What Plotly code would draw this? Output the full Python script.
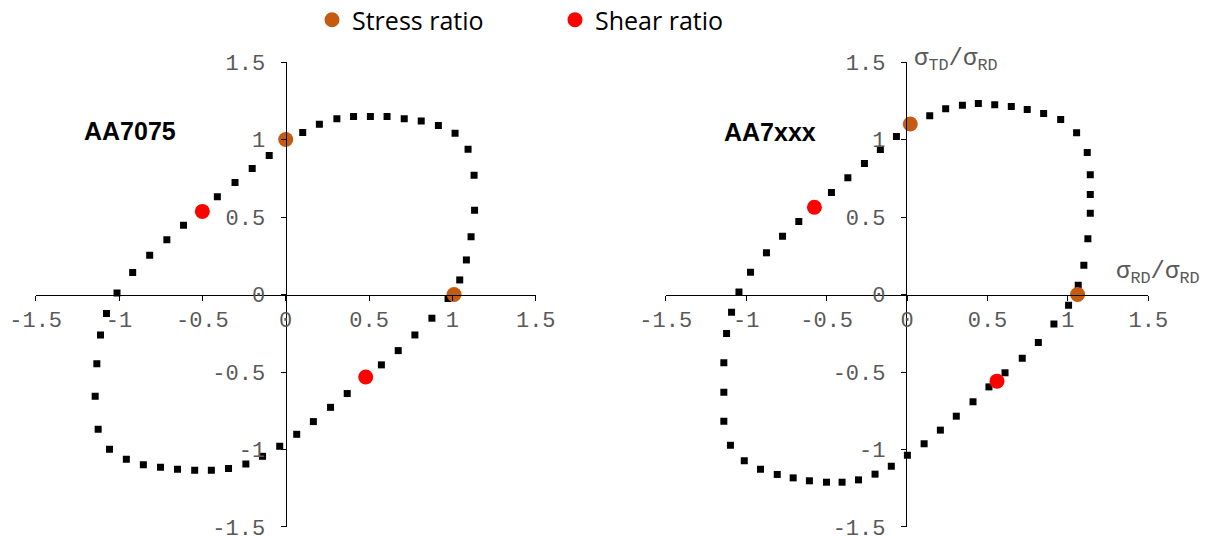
import plotly.graph_objects as go

# ---------------- data ----------------
# AA7075 yield locus (black squares)
aa7075_x = [-1.012, -0.918, -0.816, -0.713, -0.613, -0.410, -0.304, -0.201, -0.099, 0.006,
            0.102, 0.202, 0.307, 0.407, 0.508, 0.608, 0.711, 0.813, 0.916, 1.016,
            1.094, 1.130, 1.133, 1.112, 1.084, 1.044, 0.974, 0.877, 0.775, 0.675,
            0.574, 0.369, 0.269, 0.166, 0.066, -0.036, -0.139, -0.239, -0.343, -0.446,
            -0.546, -0.649, -0.751, -0.854, -0.956, -1.057, -1.125, -1.143, -1.133, -1.111,
            -1.075]
aa7075_y = [0.010, 0.142, 0.254, 0.353, 0.447, 0.630, 0.723, 0.813, 0.897, 0.996,
            1.046, 1.099, 1.134, 1.149, 1.149, 1.149, 1.134, 1.119, 1.091, 1.041,
            0.938, 0.770, 0.544, 0.372, 0.223, 0.094, -0.026, -0.153, -0.261, -0.362,
            -0.454, -0.639, -0.728, -0.820, -0.902, -0.979, -1.044, -1.094, -1.123, -1.134,
            -1.134, -1.128, -1.115, -1.098, -1.063, -0.999, -0.870, -0.657, -0.446, -0.261,
            -0.123]

# AA7xxx yield locus (black squares)
aa7xxx_x = [-1.045, -0.973, -0.874, -0.774, -0.673, -0.470, -0.368, -0.265, -0.166, -0.066,
            0.019, 0.141, 0.240, 0.344, 0.443, 0.545, 0.648, 0.747, 0.849, 0.955,
            1.054, 1.120, 1.139, 1.139, 1.139, 1.124, 1.099, 1.064, 1.004, 0.913,
            0.816, 0.716, 0.609, 0.509, 0.410, 0.306, 0.207, 0.106, 0.002, -0.098,
            -0.199, -0.302, -0.404, -0.501, -0.607, -0.708, -0.807, -0.911, -1.012, -1.098,
            -1.139, -1.139, -1.139, -1.122, -1.091]
aa7xxx_y = [0.016, 0.144, 0.269, 0.376, 0.471, 0.658, 0.753, 0.845, 0.935, 1.019,
            1.103, 1.153, 1.198, 1.221, 1.232, 1.224, 1.213, 1.194, 1.168, 1.129,
            1.043, 0.916, 0.772, 0.645, 0.525, 0.359, 0.189, 0.060, -0.069, -0.191,
            -0.310, -0.411, -0.505, -0.596, -0.692, -0.785, -0.875, -0.963, -1.037, -1.108,
            -1.159, -1.196, -1.211, -1.211, -1.202, -1.183, -1.161, -1.127, -1.073, -0.972,
            -0.817, -0.630, -0.441, -0.252, -0.114]

# Stress ratio points
stress_7075_x = [0.0, 1.01]
stress_7075_y = [1.0, 0.0]
stress_7xxx_x = [0.02, 1.06]
stress_7xxx_y = [1.10, 0.0]

# Shear ratio points
shear_7075_x = [-0.50, 0.48]
shear_7075_y = [0.536, -0.532]
shear_7xxx_x = [-0.576, 0.559]
shear_7xxx_y = [0.563, -0.559]

tick_vals = [-1.5, -1, -0.5, 0, 0.5, 1, 1.5]
tick_text = ["-1.5", "-1", "-0.5", "0", "0.5", "1", "1.5"]

# ---------------- figure ----------------
ORANGE = "#C55A11"
RED = "#FF0000"
MONO = "Liberation Mono, DejaVu Sans Mono, monospace"
TICK_FONT = dict(family=MONO, size=22, color="#595959")

fig = go.Figure()

fig.add_trace(go.Scatter(x=aa7075_x, y=aa7075_y, mode="markers", xaxis="x", yaxis="y",
                         marker=dict(symbol="square", size=7, color="black"), showlegend=False))
fig.add_trace(go.Scatter(x=aa7xxx_x, y=aa7xxx_y, mode="markers", xaxis="x2", yaxis="y2",
                         marker=dict(symbol="square", size=7, color="black"), showlegend=False))

fig.add_trace(go.Scatter(x=stress_7075_x, y=stress_7075_y, mode="markers", xaxis="x", yaxis="y",
                         name="Stress ratio", legendgroup="stress",
                         marker=dict(symbol="circle", size=15, color=ORANGE)))
fig.add_trace(go.Scatter(x=shear_7075_x, y=shear_7075_y, mode="markers", xaxis="x", yaxis="y",
                         name="Shear ratio", legendgroup="shear",
                         marker=dict(symbol="circle", size=15, color=RED)))
fig.add_trace(go.Scatter(x=stress_7xxx_x, y=stress_7xxx_y, mode="markers", xaxis="x2", yaxis="y2",
                         name="Stress ratio", legendgroup="stress", showlegend=False,
                         marker=dict(symbol="circle", size=15, color=ORANGE)))
fig.add_trace(go.Scatter(x=shear_7xxx_x, y=shear_7xxx_y, mode="markers", xaxis="x2", yaxis="y2",
                         name="Shear ratio", legendgroup="shear", showlegend=False,
                         marker=dict(symbol="circle", size=15, color=RED)))

YDOM = [0.0168, 0.8843]
YMID = (YDOM[0] + YDOM[1]) / 2

common = dict(range=[-1.5, 1.5], tickmode="array", tickvals=tick_vals, ticktext=tick_text,
              showline=True, linecolor="black", linewidth=1.3, ticks="outside", ticklen=5,
              tickwidth=1.3, tickcolor="black", showgrid=False, zeroline=False,
              tickfont=TICK_FONT, fixedrange=True, automargin=False,
              ticklabeloverflow="allow")

fig.update_layout(
    width=1205, height=536,
    margin=dict(l=0, r=0, t=0, b=0, autoexpand=False),
    paper_bgcolor="white", plot_bgcolor="rgba(0,0,0,0)",
    xaxis=dict(domain=[0.0296, 0.4446], anchor="free", position=YMID, side="bottom",
               ticklabelstandoff=0, **common),
    yaxis=dict(domain=YDOM, anchor="free", position=285.7 / 1205, side="left",
               ticklabelstandoff=11, **common),
    xaxis2=dict(domain=[0.5525, 0.9530], anchor="free", position=YMID, side="bottom",
                ticklabelstandoff=0, **common),
    yaxis2=dict(domain=YDOM, anchor="free", position=906 / 1205, side="left",
                ticklabelstandoff=11, **common),
    legend=dict(orientation="h", x=312 / 1205, xanchor="left", y=1 - 20 / 536, yanchor="middle",
                font=dict(family="Open Sans", size=25, color="black"),
                entrywidth=198, bgcolor="rgba(0,0,0,0)"),
    annotations=[
        dict(text="<b>AA7075</b>", x=82 / 1205, y=1 - 131 / 536, xref="paper", yref="paper",
             xanchor="left", yanchor="middle", showarrow=False,
             font=dict(family="Liberation Sans", size=25, color="black")),
        dict(text="<b>AA7xxx</b>", x=722 / 1205, y=1 - 132 / 536, xref="paper", yref="paper",
             xanchor="left", yanchor="middle", showarrow=False,
             font=dict(family="Liberation Sans", size=25, color="black")),
        dict(text="σ<sub>TD</sub>/σ<sub>RD</sub>", x=912 / 1205, y=1 - 60 / 536,
             xref="paper", yref="paper", xanchor="left", yanchor="middle", showarrow=False,
             font=dict(family=MONO, size=24, color="#595959")),
        dict(text="σ<sub>RD</sub>/σ<sub>RD</sub>", x=1114 / 1205, y=1 - 273 / 536,
             xref="paper", yref="paper", xanchor="left", yanchor="middle", showarrow=False,
             font=dict(family=MONO, size=24, color="#595959")),
    ],
)

fig.write_html("out.html")
